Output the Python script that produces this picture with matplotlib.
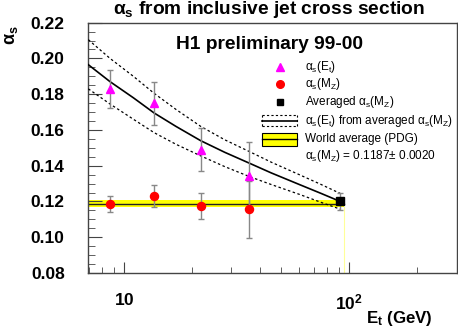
import matplotlib
matplotlib.use("Agg")
import matplotlib.pyplot as plt
import matplotlib.ticker
from matplotlib.patches import Rectangle

plt.rcParams['font.family'] = ['Liberation Sans', 'DejaVu Sans']
plt.rcParams['mathtext.fontset'] = 'custom'
plt.rcParams['mathtext.rm'] = 'Liberation Sans'
plt.rcParams['mathtext.it'] = 'Liberation Sans:italic'
plt.rcParams['mathtext.bf'] = 'Liberation Sans:bold'

# ---- data ----
et = [8.67, 13.6, 21.9, 35.9]
as_et = [0.183, 0.175, 0.149, 0.134]
as_et_err = [0.0105, 0.012, 0.012, 0.0195]
as_mz = [0.1185, 0.123, 0.1175, 0.1157]
as_mz_err = [0.0045, 0.006, 0.0073, 0.016]
mz = [91.2]
as_avg = [0.1200]
as_avg_err = [0.0045]
curve_x = [6.94, 8.67, 11.0, 13.6, 17.0, 21.9, 28.0, 35.9, 45.0, 60.0, 75.0, 91.2]
curve_mid = [0.1965, 0.1870, 0.1780, 0.1695, 0.1620, 0.1540, 0.1475, 0.1415, 0.1360, 0.1295, 0.1245, 0.1200]
curve_up = [0.2105, 0.2000, 0.1900, 0.1805, 0.1715, 0.1620, 0.1545, 0.1480, 0.1420, 0.1350, 0.1295, 0.1245]
curve_lo = [0.1830, 0.1745, 0.1660, 0.1585, 0.1520, 0.1455, 0.1395, 0.1340, 0.1295, 0.1240, 0.1195, 0.1157]
world_avg = 0.1187
world_err = 0.0020
band_x = [6.94, 94.7]
xlim = (6.94, 300)
ylim = (0.08, 0.22)
yticks = [0.08, 0.10, 0.12, 0.14, 0.16, 0.18, 0.20, 0.22]
ytick_labels = ['0.08', '0.10', '0.12', '0.14', '0.16', '0.18', '0.20', '0.22']
xticks = [10, 100]
xtick_labels = [r'$\mathbf{10}$', r'$\mathbf{10^{2}}$']

fig = plt.figure(figsize=(4.58, 3.32), dpi=100)
ax = fig.add_axes([0.1928, 0.1777, 0.8044, 0.754])
ax.set_xscale('log')
ax.set_xlim(*xlim)
ax.set_ylim(*ylim)

framec = '#444444'
for s in ax.spines.values():
    s.set_color(framec)
    s.set_linewidth(1.0)

# world average band
ax.fill_between(band_x, world_avg - world_err, world_avg + world_err,
                color='#ffff00', lw=0, zorder=1)
ax.plot(band_x, [world_avg, world_avg], color='#222222', lw=1.0, zorder=2)
ax.plot([band_x[1], band_x[1]], [ylim[0], world_avg - world_err],
        color='#ffff99', lw=0.8, zorder=1)

# running curves
ax.plot(curve_x, curve_mid, color='black', lw=1.2, zorder=3)
ax.plot(curve_x, curve_up, color='black', lw=0.9, ls=(0, (2, 2)), zorder=3)
ax.plot(curve_x, curve_lo, color='black', lw=0.9, ls=(0, (2, 2)), zorder=3)

def ebar(x, y, e, marker, color, ms):
    pl, caps, bars = ax.errorbar(x, y, yerr=e, fmt=marker, color=color, ms=ms,
                                 mec=color, ecolor='#888888', elinewidth=1.0,
                                 capsize=2, capthick=1.0, zorder=4)
    for c in caps:
        c.set_color('#333333')

ebar(et, as_et, as_et_err, '^', '#ff00ff', 5.8)
ebar(et, as_mz, as_mz_err, 'o', '#ff0000', 5.8)
ebar(mz, as_avg, as_avg_err, 's', 'black', 5.2)

# ticks
ax.set_yticks(yticks)
ax.set_yticklabels(ytick_labels, fontweight='bold', fontsize=12.5)
ax.set_yticks([v / 1000 for v in range(80, 221, 5)], minor=True)
ax.set_xticks(xticks)
ax.set_xticklabels(xtick_labels, fontsize=12.5)
ax.tick_params(axis='both', which='both', direction='in', color=framec,
               top=False, right=False)
ax.tick_params(axis='y', which='major', length=10, pad=17)
ax.tick_params(axis='y', which='minor', length=5)
ax.tick_params(axis='x', which='major', length=8, pad=14)
ax.tick_params(axis='x', which='minor', length=4, labelbottom=False)
ax.xaxis.set_minor_formatter(matplotlib.ticker.NullFormatter())

# texts
fig.text(269 / 458, 1 - 10 / 332, r'$\mathbf{\alpha_s}$ from inclusive jet cross section',
         ha='center', va='center', fontsize=13.8, fontweight='bold')
ax.text(0.493, 0.911, 'H1 preliminary 99-00', transform=ax.transAxes,
        ha='center', va='center', fontsize=13.8, fontweight='bold')
fig.text(12 / 458, 1 - 35 / 332, r'$\mathbf{\alpha_s}$', rotation=90,
         ha='center', va='center', fontsize=13)
fig.text(433 / 458, 1 - 318 / 332, r'$\mathbf{E_t}$ (GeV)', ha='right', va='center',
         fontsize=12.2, fontweight='bold')

# legend (manual)
tr = ax.transAxes
mx, tx = 0.520, 0.588
rows = [0.824, 0.754, 0.682, 0.608, 0.534, 0.467]
lfs = 8.5
ax.plot([mx], [rows[0]], '^', color='#ff00ff', ms=5.5, transform=tr, clip_on=False)
ax.text(tx, rows[0], r'$\mathrm{\alpha_s(E_t)}$', transform=tr, va='center', fontsize=lfs)
ax.plot([mx], [rows[1]], 'o', color='#ff0000', ms=5.5, transform=tr, clip_on=False)
ax.text(tx, rows[1], r'$\mathrm{\alpha_s(M_Z)}$', transform=tr, va='center', fontsize=lfs)
ax.plot([mx], [rows[2]], 's', color='black', ms=5, transform=tr, clip_on=False)
ax.text(tx, rows[2], r'Averaged $\mathrm{\alpha_s(M_Z)}$', transform=tr, va='center', fontsize=lfs)
bx0, bx1 = 0.4715, 0.5665
h = 0.022
for (xa, xb, ya, yb) in [(bx0, bx1, rows[3] + h, rows[3] + h), (bx0, bx1, rows[3] - h, rows[3] - h),
                         (bx0, bx0, rows[3] - h, rows[3] + h), (bx1, bx1, rows[3] - h, rows[3] + h)]:
    ax.plot([xa, xb], [ya, yb], color='black', lw=0.8, ls=(0, (2, 2)), transform=tr)
ax.plot([bx0, bx1], [rows[3], rows[3]], color='black', lw=1.2, transform=tr)
ax.text(tx, rows[3], r'$\mathrm{\alpha_s(E_t)}$ from averaged $\mathrm{\alpha_s(M_Z)}$',
        transform=tr, va='center', fontsize=lfs)
hy = 0.025
ax.add_patch(Rectangle((bx0, rows[4] - hy), bx1 - bx0, 2 * hy, transform=tr,
                       facecolor='#ffff00', edgecolor='black', lw=0.8))
ax.plot([bx0, bx1], [rows[4], rows[4]], color='black', lw=1.0, transform=tr)
ax.text(tx, rows[4], 'World average (PDG)', transform=tr, va='center', fontsize=lfs)
ax.text(tx, rows[5], r'$\mathrm{\alpha_s(M_Z)}$ = 0.1187$\pm$ 0.0020', transform=tr,
        va='center', fontsize=lfs)

fig.savefig('out.png', dpi=100)
